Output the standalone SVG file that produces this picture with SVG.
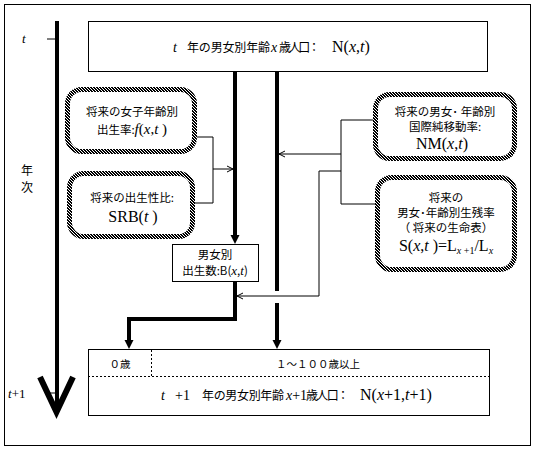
<svg xmlns="http://www.w3.org/2000/svg" width="535" height="451" viewBox="0 0 535 451">
<style>
.jp{font-family:"Noto Sans CJK JP","Liberation Sans",sans-serif;font-size:11.5px;fill:#000}
.mx{font-family:"Liberation Serif","Noto Sans CJK JP",serif;font-size:15px;fill:#000}
.it{font-style:italic}
.box{fill:#fff;stroke:#000;stroke-width:1}
.hb{fill:#fff;stroke:url(#hatch);stroke-width:5}
.thk{fill:none;stroke:#000;stroke-width:4}
.thn{fill:none;stroke:#000;stroke-width:1}
.dash{fill:none;stroke:#000;stroke-width:1;stroke-dasharray:2,2}
</style>
<defs>
<pattern id="hatch" patternUnits="userSpaceOnUse" width="3" height="3">
<rect width="3" height="3" fill="#fff"/>
<rect x="0" y="0" width="2" height="1" fill="#000"/>
<rect x="1" y="1" width="2" height="1" fill="#000"/>
<rect x="2" y="2" width="1" height="1" fill="#000"/>
<rect x="0" y="2" width="1" height="1" fill="#000"/>
</pattern>
<marker id="oa" markerWidth="8" markerHeight="8" refX="7" refY="4" orient="auto" markerUnits="userSpaceOnUse">
<path d="M1,1 L7,4 L1,7" fill="none" stroke="#000" stroke-width="1"/>
</marker>
</defs>
<rect x="4.5" y="4.5" width="526" height="441" fill="#fff" stroke="#000" stroke-width="1"/>
<g id="timeline">
<line x1="57" y1="21" x2="57" y2="413" stroke="#000" stroke-width="4"/>
<line x1="47" y1="39" x2="57" y2="39" stroke="#000" stroke-width="1"/>
<line x1="47" y1="393" x2="57" y2="393" stroke="#000" stroke-width="1"/>
<path d="M40,377 L56.5,412 L73,377" fill="none" stroke="#000" stroke-width="6"/>
<text x="22" y="43" class="mx it" style="font-size:13px">t</text>
<text x="8" y="398" class="mx" style="font-size:13px"><tspan class="it">t</tspan>+1</text>
<text x="27" y="175" class="jp" text-anchor="middle" style="font-size:12px">年</text>
<text x="27" y="192" class="jp" text-anchor="middle" style="font-size:12px">次</text>
</g>
<g id="connectors">
<polyline class="thk" points="235,71 235,236"/>
<polygon points="230.5,235 239.5,235 235,244"/>
<polyline class="thk" points="277,71 277,291"/>
<polyline class="thk" points="277,303 277,341"/>
<polygon points="272.5,340 281.5,340 277,349"/>
<polyline class="thk" points="235,281 235,319 129,319 129,341"/>
<polygon points="124.5,340 133.5,340 129,349"/>
<polyline class="thn" points="197,137 213,137 213,203 195,203"/>
<line class="thn" x1="213" y1="169" x2="233" y2="169" marker-end="url(#oa)"/>
<polyline class="thn" points="373,120 341,120 341,204 375,204"/>
<line class="thn" x1="341" y1="154" x2="279" y2="154" marker-end="url(#oa)"/>
<polyline class="thn" points="341,171 319,171 319,296 237,296" marker-end="url(#oa)"/>
</g>
<g id="node-top">
<rect class="box" x="88.5" y="21.5" width="399" height="50"/>
<text y="52" class="mx"><tspan x="173" class="it" style="font-size:14px">t</tspan><tspan x="187" class="jp" style="font-size:12px" textLength="83" lengthAdjust="spacing">年の男女別年齢</tspan><tspan x="271" class="it" style="font-size:14px">x</tspan><tspan x="279" class="jp" style="font-size:12px" textLength="41" lengthAdjust="spacing">歳人口：</tspan><tspan x="332" style="font-size:16px">N(</tspan><tspan class="it" style="font-size:16px">x</tspan><tspan style="font-size:16px">,</tspan><tspan class="it" style="font-size:16px">t</tspan><tspan style="font-size:16px">)</tspan></text>
</g>
<g id="node-fertility">
<rect class="hb" x="67.5" y="89.5" width="127" height="62" rx="14"/>
<text x="132" y="116" class="jp" text-anchor="middle">将来の女子年齢別</text>
<text x="132" y="134" class="jp" text-anchor="middle">出生率:<tspan class="mx it">f</tspan><tspan class="mx">(</tspan><tspan class="mx it">x</tspan><tspan class="mx">,</tspan><tspan class="mx it">t</tspan><tspan class="mx"> )</tspan></text>
</g>
<g id="node-srb">
<rect class="hb" x="69.5" y="173.5" width="123" height="63" rx="14"/>
<text x="132" y="202" class="jp" text-anchor="middle">将来の出生性比:</text>
<text x="133" y="222" class="mx" text-anchor="middle" style="font-size:16px">SRB(<tspan class="it">t</tspan> )</text>
</g>
<g id="node-migration">
<rect class="hb" x="375.5" y="94.5" width="139" height="64" rx="14"/>
<text x="445" y="116" class="jp" text-anchor="middle">将来の男女･ 年齢別</text>
<text x="445" y="131" class="jp" text-anchor="middle">国際純移動率:</text>
<text x="442" y="149" class="mx" text-anchor="middle" style="font-size:16px">NM(<tspan class="it">x</tspan>,<tspan class="it">t</tspan>)</text>
</g>
<g id="node-survival">
<rect class="hb" x="377.5" y="177.5" width="137" height="92" rx="14"/>
<text x="446" y="202" class="jp" text-anchor="middle">将来の</text>
<text x="446" y="217" class="jp" text-anchor="middle">男女･年齢別生残率</text>
<text x="446" y="232" class="jp" text-anchor="middle">（ 将来の生命表）</text>
<text x="446" y="251" class="mx" text-anchor="middle" style="font-size:16px">S(<tspan class="it">x</tspan>,<tspan class="it">t</tspan> )=L<tspan class="it" style="font-size:10px" dy="3">x</tspan><tspan style="font-size:10px"> +1</tspan><tspan dy="-3">/L</tspan><tspan class="it" style="font-size:10px" dy="3">x</tspan></text>
</g>
<g id="node-births">
<rect class="box" x="172.5" y="244.5" width="86" height="37"/>
<text x="215" y="259" class="jp" text-anchor="middle">男女別</text>
<text x="215" y="275" class="jp" text-anchor="middle">出生数:B(<tspan class="mx it" style="font-size:13px">x</tspan>,<tspan class="mx it" style="font-size:13px">t</tspan>)</text>
</g>
<g id="node-bottom">
<rect class="box" x="88.5" y="349.5" width="401" height="66"/>
<line class="dash" x1="88" y1="376.5" x2="490" y2="376.5"/>
<line class="dash" x1="151.5" y1="350" x2="151.5" y2="376"/>
<text x="120" y="368" class="jp" text-anchor="middle" style="font-size:10.5px">０歳</text>
<text x="318" y="368" class="jp" text-anchor="middle" style="font-size:10.5px">１～１００歳以上</text>
<text y="400" class="mx"><tspan x="161" class="it" style="font-size:14px">t</tspan><tspan x="175" style="font-size:14px">+1</tspan><tspan x="202" class="jp" style="font-size:12px" textLength="82" lengthAdjust="spacing">年の男女別年齢</tspan><tspan x="286" class="it" style="font-size:14px">x</tspan><tspan style="font-size:14px">+1</tspan><tspan x="306" class="jp" style="font-size:12px" textLength="43" lengthAdjust="spacing">歳人口：</tspan><tspan x="360" style="font-size:16px">N(</tspan><tspan class="it" style="font-size:16px">x</tspan><tspan style="font-size:16px">+1,</tspan><tspan class="it" style="font-size:16px">t</tspan><tspan style="font-size:16px">+1)</tspan></text>
</g>
</svg>
